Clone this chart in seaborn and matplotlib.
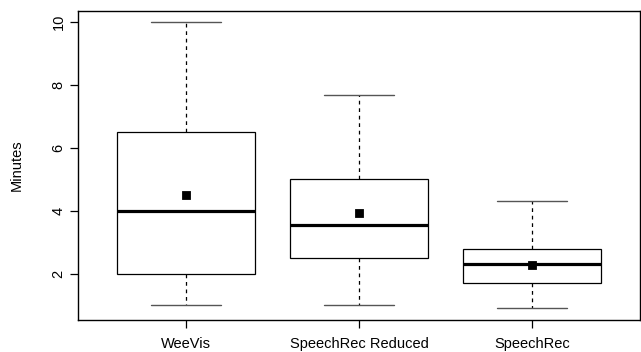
import numpy as np
import pandas as pd
import matplotlib
matplotlib.use('Agg')
import matplotlib.pyplot as plt
import seaborn as sns

# minutes per task
groups = ['WeeVis', 'SpeechRec Reduced', 'SpeechRec']
weevis = [1.0, 1.5, 2.0, 3.0, 4.0, 5.0, 6.5, 7.5, 10.0]
speechrec_reduced = [1.0, 2.0, 2.5, 3.1, 3.55, 4.3, 5.0, 6.2, 7.7]
speechrec = [0.9, 1.2, 1.7, 1.8, 2.3, 2.4, 2.8, 3.0, 4.3]
y_ticks = [2, 4, 6, 8, 10]

df = pd.DataFrame({
    'group': np.repeat(groups, [len(weevis), len(speechrec_reduced), len(speechrec)]),
    'Minutes': weevis + speechrec_reduced + speechrec,
})

sns.set_style('ticks', {'text.color': 'black', 'axes.labelcolor': 'black',
                        'xtick.color': 'black', 'ytick.color': 'black',
                        'axes.edgecolor': 'black'})
plt.rcParams['font.family'] = ['Liberation Sans', 'DejaVu Sans']

fig = plt.figure(figsize=(6.41, 3.52), dpi=100)
ax = fig.add_axes([78 / 641, 32 / 352, 562 / 641, 309 / 352])

sns.boxplot(
    data=df, x='group', y='Minutes', order=groups, ax=ax,
    color='white', linecolor='black', linewidth=0.9, width=0.8,
    whis=1.5, showfliers=False,
    medianprops={'linewidth': 2.3, 'color': 'black'},
    whiskerprops={'linestyle': (0, (3, 3)), 'linewidth': 0.9},
    capprops={'color': '#555555', 'linewidth': 1.0},
)
sns.pointplot(
    data=df, x='group', y='Minutes', order=groups, ax=ax,
    estimator='mean', errorbar=None, linestyle='none',
    marker='s', markersize=5, color='black',
)

ax.set_xlim(-0.624, 2.624)
ax.set_ylim(0.526, 10.36)
ax.set_yticks(y_ticks)
ax.set_yticklabels([str(t) for t in y_ticks])
ax.set_xlabel('')
ax.set_ylabel('Minutes', fontsize=10.5, labelpad=20, color='black')
ax.tick_params(axis='y', labelrotation=90, length=6, width=0.9, pad=3,
               labelsize=10.5, colors='black')
ax.tick_params(axis='x', length=6, width=0.9, pad=6, labelsize=10.5,
               colors='black')
for lab in ax.get_yticklabels():
    lab.set_va('center')
for s in ax.spines.values():
    s.set_visible(True)
    s.set_color('black')
    s.set_linewidth(1.0)

fig.savefig('out.png', dpi=100)
